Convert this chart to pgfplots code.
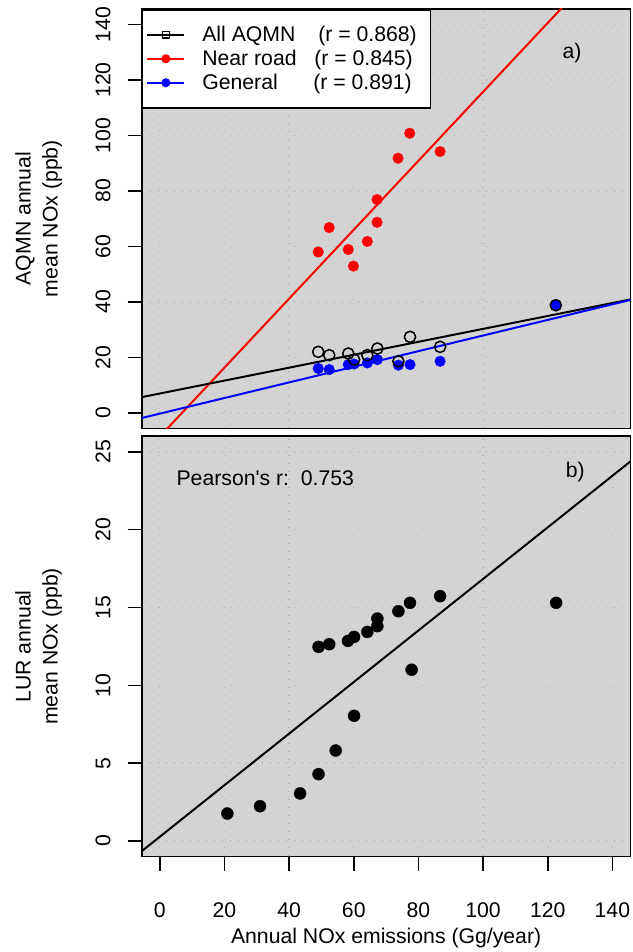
\documentclass[border=0pt]{standalone}
\usepackage{fontspec}
\setmainfont{Liberation Sans}[Ligatures=TeXOff]
\usepackage{pgfplots}
\pgfplotsset{compat=1.18}
\definecolor{bgc}{HTML}{D3D3D3}
\definecolor{gridc}{HTML}{B4B4B4}
\definecolor{rred}{HTML}{FF0000}
\definecolor{rblue}{HTML}{0000FF}
\begin{document}
\begin{tikzpicture}[font=\fontsize{21.3}{27}\selectfont]
\useasboundingbox (0,0) rectangle (633bp,952bp);
\pgfplotsset{
  myaxis/.style={
    scale only axis, width=488.8bp,
    xmin=-5.6, xmax=145.6,
    xtick={0,20,...,140},
    axis background/.style={fill=bgc},
    grid=major,
    major grid style={draw=gridc, line width=1.3bp, dash pattern=on 1.3bp off 6.7bp},
    axis line style={line width=1.6bp},
    tick align=outside,
    tick pos=left,
    major tick length=14bp,
    tick style={line width=1.6bp, black},
    /pgf/number format/assume math mode=true,
    yticklabel style={rotate=90, anchor=south, inner sep=0pt},
    yticklabel shift=17bp,
    xticklabel style={anchor=north, inner sep=0pt},
    xticklabel shift=32bp,
    ylabel style={at={(axis description cs:-0.2107,0.5)}, anchor=center, align=center},
  }
}
\begin{axis}[myaxis, at={(141.7bp,523.6bp)}, anchor=south west, height=419.4bp,
  ymin=-5.6, ymax=145.6, ytick={0,20,...,140},
  xticklabels={}, xtick style={draw=none},
  ylabel={AQMN annual\\mean NOx (ppb)},
  legend image code/.code={\draw[mark repeat=2,mark phase=2,#1] plot coordinates {(0bp,0bp) (18.5bp,0bp) (37bp,0bp)};},
  legend cell align=left,
  legend style={at={(0,1)}, anchor=north west, draw=black, line width=1.6bp, fill=white,
    inner xsep=4bp, inner ysep=13bp, row sep=0pt, column sep=17bp,
    nodes={inner sep=0pt, minimum height=24bp}},
]
\addlegendimage{black, line width=1.8bp, mark=square, mark size=3.4bp, mark options={line width=1.4bp}}
\addlegendentry{\makebox[224bp][l]{\makebox[116bp][l]{All AQMN}(r = 0.868)}}
\addlegendimage{rred, line width=1.8bp, mark=*, mark size=3.6bp, mark options={draw=rred, fill=rred}}
\addlegendentry{\makebox[224bp][l]{\makebox[112bp][l]{Near road}(r = 0.845)}}
\addlegendimage{rblue, line width=1.8bp, mark=*, mark size=3.6bp, mark options={draw=rblue, fill=rblue}}
\addlegendentry{\makebox[224bp][l]{\makebox[111bp][l]{General}(r = 0.891)}}

% Near road
\addplot[forget plot, only marks, mark=*, mark size=5.3bp, mark options={draw=rred, fill=rred}] coordinates {
 (49.0,58.0) (52.4,66.8) (58.3,58.9) (59.9,52.9) (64.2,61.8)
 (67.2,68.7) (67.2,76.9) (73.7,91.8) (77.3,100.8) (86.7,94.2)};
% General
\addplot[forget plot, only marks, mark=*, mark size=5.3bp, mark options={draw=rblue, fill=rblue}] coordinates {
 (49.0,16.0) (52.4,15.6) (58.3,17.4) (60.1,17.6) (64.2,18.0)
 (67.3,19.2) (73.8,17.2) (77.4,17.4) (86.7,18.6) (122.5,38.8)};
% All AQMN
\addplot[forget plot, only marks, mark=o, mark size=5.6bp, mark options={draw=black, line width=1.5bp}] coordinates {
 (49.0,22.0) (52.4,20.8) (58.3,21.4) (60.1,19.2) (64.2,20.8)
 (67.3,23.2) (73.8,18.6) (77.4,27.4) (86.7,23.8) (122.5,38.8)};
% fitted lines
\addplot[forget plot, rred, line width=2bp] coordinates {(-5.6,-15.5) (145.6,172.4)};
\addplot[forget plot, black, line width=2bp] coordinates {(-5.6,5.67) (145.6,40.89)};
\addplot[forget plot, rblue, line width=2bp] coordinates {(-5.6,-1.86) (145.6,40.72)};
\node at (axis cs:127.5,129.8) {a)};
\end{axis}

\begin{axis}[myaxis, at={(141.7bp,95.5bp)}, anchor=south west, height=420.2bp,
  ymin=-1, ymax=26, ytick={0,5,...,25},
  xlabel={Annual NOx emissions (Gg/year)},
  xlabel style={at={(axis description cs:0.5,0)}, anchor=center, yshift=-82bp},
  ylabel={LUR annual\\mean NOx (ppb)},
]
\addplot[only marks, mark=*, mark size=6bp, mark options={draw=black, fill=black}] coordinates {
 (20.9,1.76) (31.0,2.23) (43.4,3.05) (49.1,4.29) (54.4,5.81) (60.1,8.04)
 (49.1,12.47) (52.4,12.64) (58.2,12.85) (60.1,13.11) (64.2,13.43)
 (67.3,13.80) (67.3,14.29) (73.8,14.76) (77.4,15.30) (77.9,11.0)
 (86.7,15.73) (122.6,15.3)};
\addplot[black, line width=2bp] coordinates {(-5.6,-0.66) (145.6,24.39)};
\node[anchor=west] at (axis cs:4.1,23.3) {Pearson's r:\ \ 0.753};
\node at (axis cs:128.5,23.7) {b)};
\end{axis}
\end{tikzpicture}
\end{document}
